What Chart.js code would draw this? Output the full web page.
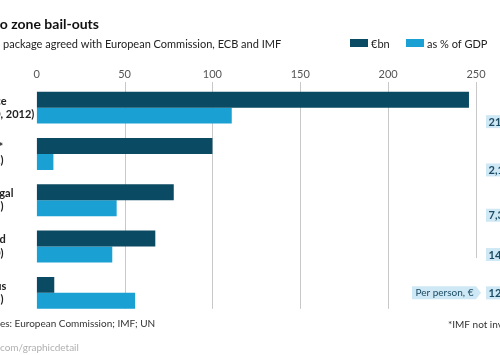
<!DOCTYPE html>
<html><head><meta charset="utf-8">
<script src="https://cdn.jsdelivr.net/npm/chart.js@4/dist/chart.umd.min.js"></script>
<style>html,body{margin:0;padding:0;background:#fff;overflow:hidden}#wrap{position:relative;width:500px;height:355px}</style>
</head><body><div id="wrap"><canvas id="c" width="500" height="355"></canvas></div>
<script>
// ---- data ----
const categories = [["Greece", "(2010, 2012)"], ["Spain*", "(2012)"], ["Portugal", "(2011)"], ["Ireland", "(2010)"], ["Cyprus", "(2013)"]];
const euroBn = [246, 100, 78, 67.5, 10];
const pctGDP = [111, 9.5, 45.5, 43, 56];
const perPerson = ["21,770", "2,137", "7,358", "14,674", "12,500"];
const xTicks = [0, 50, 100, 150, 200, 250];
const seriesNames = ["€bn", "as % of GDP"];
const titleText = "Euro zone bail-outs";
const subtitleText = "Total package agreed with European Commission, ECB and IMF";
const sourceText = "Sources: European Commission; IMF; UN";
const footText = "*IMF not involved";
const urlText = "Economist.com/graphicdetail";
const perPersonLabel = "Per person, €";

// ---- style ----
const FONT = "Lato, 'Open Sans', sans-serif";
const DARK = "#0a4a62";
const LIGHT = "#1aa0d3";
const PALE = "#cfe8f5";
const BOXTEXT = "#1b4c63";
const GRID = "#c8c8c8";
const boxOffsets = [14, 16, 15, 8, 0]; // vertical layout offset of per-person boxes from category centre

const decor = {
  id: 'decor',
  beforeDatasetsDraw(chart) {
    const ctx = chart.ctx, xs = chart.scales.x, ys = chart.scales.y, ca = chart.chartArea;
    const meta = chart.getDatasetMeta(1);
    const last = meta.data[meta.data.length - 1];
    const band = ys.getPixelForValue(1) - ys.getPixelForValue(0);
    ctx.save();
    ctx.strokeStyle = GRID; ctx.lineWidth = 1;
    xTicks.forEach((v, i) => {
      if (v === 0) return;
      const x = Math.round(xs.getPixelForValue(v)) + 0.5;
      let bottom = last.y + last.height / 2;
      if (i === xTicks.length - 1) bottom = ys.getPixelForValue(3) + band * 0.25;
      ctx.beginPath(); ctx.moveTo(x, ca.top - 2.5); ctx.lineTo(x, bottom); ctx.stroke();
    });
    ctx.restore();
  },
  afterDraw(chart) {
    const ctx = chart.ctx, ys = chart.scales.y;
    ctx.save();
    ctx.textBaseline = 'alphabetic';
    // title (cropped at left)
    ctx.fillStyle = '#111';
    ctx.font = "bold 14px " + FONT;
    ctx.fillText(titleText, -ctx.measureText("Eur").width, 29);
    // subtitle
    ctx.font = "11px " + FONT;
    ctx.fillStyle = '#222';
    ctx.fillText(subtitleText, 3 - ctx.measureText("Total ").width, 47.5);
    // legend
    const lg = [[350, DARK, seriesNames[0]], [406, LIGHT, seriesNames[1]]];
    lg.forEach(([x, col, t]) => {
      ctx.fillStyle = col; ctx.fillRect(x, 39, 18, 8);
      ctx.fillStyle = '#222'; ctx.fillText(t, x + 21, 47.5);
    });
    // per-person boxes
    ctx.font = "bold 11px " + FONT;
    perPerson.forEach((t, i) => {
      const cy = ys.getPixelForValue(i) + boxOffsets[i];
      const w = ctx.measureText(t).width + 6;
      ctx.fillStyle = PALE; ctx.fillRect(486, cy - 6.5, w, 13);
      ctx.fillStyle = BOXTEXT; ctx.fillText(t, 488.5, cy + 4);
    });
    // "Per person" callout
    const cy = ys.getPixelForValue(4) + boxOffsets[4];
    ctx.font = "10px " + FONT;
    ctx.fillStyle = PALE;
    ctx.beginPath();
    ctx.moveTo(412, cy - 6.5); ctx.lineTo(476, cy - 6.5); ctx.lineTo(481, cy); ctx.lineTo(476, cy + 6.5); ctx.lineTo(412, cy + 6.5); ctx.closePath(); ctx.fill();
    ctx.fillStyle = BOXTEXT; ctx.fillText(perPersonLabel, 415.5, cy + 3.5);
    // sources / footnote / url
    ctx.fillStyle = '#333';
    ctx.font = "10px " + FONT;
    ctx.fillText(sourceText, -ctx.measureText("Sourc").width, 327);
    ctx.fillText(footText, 448, 328);
    ctx.fillStyle = '#b0b0b0';
    ctx.fillText(urlText, -ctx.measureText("Economist.").width, 351);
    ctx.restore();
  }
};

new Chart(document.getElementById('c'), {
  type: 'bar',
  data: {
    labels: categories,
    datasets: [
      { label: seriesNames[0], data: euroBn, backgroundColor: DARK },
      { label: seriesNames[1], data: pctGDP, backgroundColor: LIGHT }
    ]
  },
  options: {
    indexAxis: 'y', responsive: false, animation: false,
    layout: { padding: { top: 54.5, right: 24, bottom: 39, left: -28 } },
    datasets: { bar: { categoryPercentage: 0.69, barPercentage: 1 } },
    plugins: { legend: { display: false }, tooltip: { enabled: false } },
    scales: {
      x: {
        position: 'top', min: 0, max: 250,
        afterBuildTicks: s => { s.ticks = xTicks.map(v => ({ value: v })); },
        grid: { display: false, drawTicks: false }, border: { display: false },
        ticks: { padding: 3, color: '#555', font: { family: FONT, size: 11 } },
        afterFit: s => { s.height = 30; }
      },
      y: {
        grid: { display: false, drawTicks: false }, border: { display: false },
        ticks: { padding: 4, crossAlign: 'far', color: '#222', font: { family: FONT, size: 11, weight: 'bold' } },
        afterFit: s => { s.width = 64.7; }
      }
    }
  },
  plugins: [decor]
});
</script></body></html>
